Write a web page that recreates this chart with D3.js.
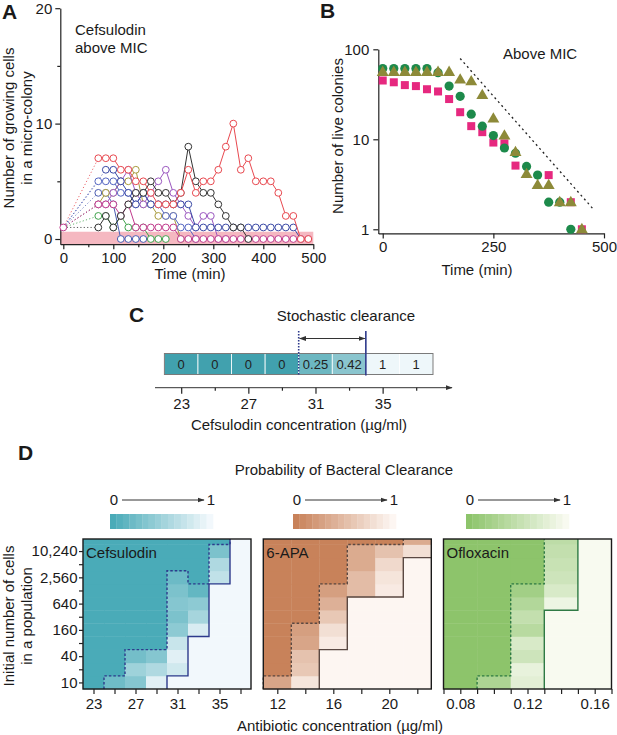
<!DOCTYPE html>
<html>
<head>
<meta charset="utf-8">
<script src="https://cdn.jsdelivr.net/npm/d3@7"></script>
<style>
body{margin:0;background:#fff;}
</style>
</head>
<body>
<script>
// ---------- data ----------
// panel A : growing cells per micro-colony (one point every 15 min from 70 min)
var timesA = [70,85,100,115,130,145,160,175,190,205,220,235,250,265,280,295,310,325,340,355,370,385,400,415,430,445,460,475,490];
var redA     = [7,7,7,6,6,5,5,4,3,3,3,4,6,4,5,5,6,8,10,6,7,5,5,5,4,2,2,0,0];
var blackA   = [1,2,1,2,3,4,4,5,4,4,3,4,8,5,4,4,3,2,1,1,0,null,null,null,null,null,null,null,null];
var blueA1   = [null,6,6,5,4,3,4,3,3,3,3,3,3,1,1,1,1,1,1,1,1,1,1,1,1,1,1,0,null];
var blueA2   = [5,5,5,4,4,3,4,3,3,2,2,1,1,0,null,null,null,null,null,null,null,null,null,null,null,null,null,null,null];
var blueA3   = [4,4,3,0,0,0,0,null,null,null,null,null,null,null,null,null,null,null,null,null,null,null,null,null,null,null,null,null,null];
var greenA   = [2,2,1,2,1,1,1,0,0,0,null,null,null,null,null,null,null,null,null,null,null,null,null,null,null,null,null,null,null];
var magentaA = [3,3,3,2,3,1,1,1,1,1,1,0,0,0,0,0,0,0,0,0,0,0,0,0,0,0,0,0,0];
var purpleA  = [3,3,4,5,6,4,3,4,5,6,4,3,2,1,2,2,0,0,null,null,null,null,null,null,null,null,null,null,null];
var oliveA   = [3,4,4,5,5,6,3,3,2,2,2,0,null,null,null,null,null,null,null,null,null,null,null,null,null,null,null,null,null];

// panel B : live colonies (every 25 min)
var timesB  = [0,25,50,75,100,125,150,175,200,225,250,275,300,325,350,375,400,425,450];
var circleB = [61,61,61,61,61,55,39,30,19,14,11,8,7,5,4,2,2,1,null];
var triB    = [56,56,56,56,56,56,56,46,44,31,17,11,7.2,4.1,3.1,3.1,2,2,1];
var squareB = [45,43,40,39,36,34,28,20,14,12,9.2,9,5.1,null,null,4,null,2,1];
var guideT  = [175,477];
var guideV  = [79,1.65];

// panel C
var concC  = [23,25,27,29,31,33,35,37];
var probC  = [0,0,0,0,0.25,0.42,1,1];
var labelC = ["0","0","0","0","0.25","0.42","1","1"];

// panel D : rows = initial number of cells
var rowsD = [10,20,40,80,160,320,640,1280,2560,5120,10240,20480];
var cefConc = [23,25,27,29,31,33,35,37];
var cefProb = [
  [0,0,0,0,0,0,0,0,0,0,0,0],
  [0.22,0,0,0,0,0,0,0,0,0,0,0],
  [0.35,0.5,0.25,0,0,0,0,0,0,0,0,0],
  [0.9,0.6,0.35,0,0,0,0,0,0,0,0,0],
  [1,0.8,0.9,0.75,0.4,0.3,0.35,0.3,0.2,0,0,0],
  [1,1,1,1,0.85,0.55,0.4,0.15,0,0,0,0],
  [1,1,1,1,1,1,1,1,0.7,0.6,0.3,0],
  [1,1,1,1,1,1,1,1,1,1,1,1]
];
var apaConc = [12,14,16,18,20,22];
var apaProb = [
  [0.3,0,0,0,0,0,0,0,0,0,0,0],
  [0.85,0.6,0.55,0.3,0.25,0,0,0,0,0,0,0],
  [1,1,1,0.9,0.8,0.6,0.4,0.25,0,0,0,0],
  [1,1,1,1,1,1,1,0.5,0.5,0.35,0.35,0],
  [1,1,1,1,1,1,1,0.9,0.85,0.75,0.55,0],
  [1,1,1,1,1,1,1,1,1,1,0.8,0.35]
];
var oflConc = [0.08,0.10,0.12,0.14,0.16];
var oflProb = [
  [0,0,0,0,0,0,0,0,0,0,0,0],
  [0.3,0,0,0,0,0,0,0,0,0,0,0],
  [0.8,0.85,0.6,0.7,0.4,0.5,0.35,0.2,0,0,0,0],
  [1,1,1,1,1,1,0.9,0.7,0.6,0.55,0.5,0.45],
  [1,1,1,1,1,1,1,1,1,1,1,1]
];

// ---------- setup ----------
var FONT = '"Liberation Sans", Arial, Helvetica, sans-serif';
var svg = d3.select("body").append("svg")
    .attr("width",617).attr("height",735)
    .attr("font-family",FONT);

var defs = svg.append("defs");
defs.append("marker").attr("id","arr").attr("viewBox","0 0 10 10")
  .attr("refX",9).attr("refY",5).attr("markerWidth",7).attr("markerHeight",7)
  .attr("orient","auto-start-reverse")
  .append("path").attr("d","M0,1.5L10,5L0,8.5Z").attr("fill","#333");

function styleAxis(g, fs){
  g.attr("font-family",FONT).attr("font-size",fs||14);
  g.selectAll("path,line").attr("stroke","#222").attr("stroke-width",1.2);
  g.selectAll("text").attr("fill","#1a1a1a");
}
function label(x,y,t,opt){
  opt = opt||{};
  return svg.append("text").attr("x",x).attr("y",y)
    .attr("font-size",opt.size||15)
    .attr("font-weight",opt.bold?"bold":"normal")
    .attr("text-anchor",opt.anchor||"start")
    .attr("fill","#1a1a1a")
    .attr("transform",opt.rot?"rotate(-90,"+x+","+y+")":null)
    .text(t);
}

// ---------- panel A ----------
var xA = d3.scaleLinear().domain([-6,500]).range([60.3,313.3]);
var yA = d3.scaleLinear().domain([-0.45,20]).range([244.2,8.2]);

svg.append("rect").attr("x",xA(-6)).attr("width",xA(500)-xA(-6))
  .attr("y",yA(0.63)).attr("height",yA(-0.45)-yA(0.63)).attr("fill","#f5b8c1");

var axA = svg.append("g").attr("transform","translate(0,"+yA(-0.45)+")")
  .call(d3.axisBottom(xA).tickValues([0,100,200,300,400,500]).tickSize(5).tickPadding(3).tickSizeOuter(0));
styleAxis(axA,15);
var axAm = svg.append("g").attr("transform","translate(0,"+yA(-0.45)+")")
  .call(d3.axisBottom(xA).tickValues([50,150,250,350,450]).tickSize(3).tickFormat("").tickSizeOuter(0));
styleAxis(axAm); axAm.select(".domain").remove();
var ayA = svg.append("g").attr("transform","translate("+xA(-6)+",0)")
  .call(d3.axisLeft(yA).tickValues([0,10,20]).tickSize(5).tickPadding(3).tickSizeOuter(0));
styleAxis(ayA,15);
var ayAm = svg.append("g").attr("transform","translate("+xA(-6)+",0)")
  .call(d3.axisLeft(yA).tickValues([5,15]).tickSize(3).tickFormat("").tickSizeOuter(0));
styleAxis(ayAm); ayAm.select(".domain").remove();

var seriesA = [
  {c:"#4a5bb0", v:blueA3},
  {c:"#3fa34c", v:greenA},
  {c:"#a89b3c", v:oliveA},
  {c:"#9b58c0", v:purpleA},
  {c:"#5566c2", v:blueA2},
  {c:"#3b4aa6", v:blueA1},
  {c:"#c03a8c", v:magentaA},
  {c:"#333333", v:blackA},
  {c:"#e8484f", v:redA}
];
var lineA = d3.line().defined(function(d){return d!=null;})
  .x(function(d,i){return xA(timesA[i]);}).y(function(d){return yA(d);});

// dotted lead-in from the single starting cell
seriesA.forEach(function(s){
  var i0 = s.v.findIndex(function(d){return d!=null;});
  svg.append("line").attr("x1",xA(0)).attr("y1",yA(1))
    .attr("x2",xA(timesA[i0])).attr("y2",yA(s.v[i0]))
    .attr("stroke",s.c).attr("stroke-width",1).attr("stroke-dasharray","1.2,2.2").attr("opacity",0.8);
});
seriesA.forEach(function(s){
  var g = svg.append("g");
  g.append("path").attr("d",lineA(s.v)).attr("fill","none").attr("stroke",s.c).attr("stroke-width",1);
  g.selectAll("circle").data(s.v.map(function(d,i){return {t:timesA[i],v:d};}).filter(function(d){return d.v!=null;}))
    .enter().append("circle")
    .attr("cx",function(d){return xA(d.t);}).attr("cy",function(d){return yA(d.v);})
    .attr("r",3.4).attr("fill","#fff").attr("stroke",s.c).attr("stroke-width",1);
});
svg.append("circle").attr("cx",xA(0)).attr("cy",yA(1)).attr("r",3.4)
  .attr("fill","#fff").attr("stroke","#c03a8c").attr("stroke-width",1);

label(2,19,"A",{bold:true,size:21});
label(75,35,"Cefsulodin");
label(75,53,"above MIC");
label(190,279,"Time (min)",{anchor:"middle"});
label(14,128,"Number of growing cells",{anchor:"middle",rot:true});
label(32,128,"in a micro-colony",{anchor:"middle",rot:true});

// ---------- panel B ----------
var xB = d3.scaleLinear().domain([-10,500]).range([378.3,604]);
var yB = d3.scaleLog().domain([0.9,100]).range([233.4,49.3]);

var axB = svg.append("g").attr("transform","translate(0,"+yB(0.9)+")")
  .call(d3.axisBottom(xB).tickValues([0,250,500]).tickSize(5).tickPadding(3).tickSizeOuter(0));
styleAxis(axB,15);
var ayB = svg.append("g").attr("transform","translate("+xB(-10)+",0)")
  .call(d3.axisLeft(yB).tickValues([1,10,100]).tickFormat(d3.format("d")).tickSize(5).tickPadding(4).tickSizeOuter(0));
styleAxis(ayB,15);

svg.append("line").attr("x1",xB(guideT[0])).attr("y1",yB(guideV[0]))
  .attr("x2",xB(guideT[1])).attr("y2",yB(guideV[1]))
  .attr("stroke","#222").attr("stroke-width",1.3).attr("stroke-dasharray","2,3.2");

function ptsB(arr){
  return arr.map(function(d,i){return {t:timesB[i],v:d};}).filter(function(d){return d.v!=null;});
}
svg.append("g").selectAll("rect").data(ptsB(squareB)).enter().append("rect")
  .attr("x",function(d){return xB(d.t)-4;}).attr("y",function(d){return yB(d.v)-4;})
  .attr("width",8).attr("height",8).attr("fill","#e6287f");
svg.append("g").selectAll("circle").data(ptsB(circleB)).enter().append("circle")
  .attr("cx",function(d){return xB(d.t);}).attr("cy",function(d){return yB(d.v);})
  .attr("r",4.6).attr("fill","#1d8a4b");
var tri = d3.symbol().type(d3.symbolTriangle).size(62);
svg.append("g").selectAll("path").data(ptsB(triB)).enter().append("path")
  .attr("d",tri).attr("transform",function(d){return "translate("+xB(d.t)+","+(yB(d.v)+0.5)+")";})
  .attr("fill","#8d8a39");

label(320,18,"B",{bold:true,size:21});
label(503,59,"Above MIC");
label(477,275,"Time (min)",{anchor:"middle"});
label(343,136,"Number of live colonies",{anchor:"middle",rot:true});

// ---------- panel C ----------
var xC = d3.scaleLinear().domain([23,37]).range([181.2,416.2]);
var colC = d3.scaleLinear().domain([0,1]).range(["#41a1ae","#eef7fa"]).interpolate(d3.interpolateRgb);
var cTop = 353.5, cH = 21;
svg.append("g").selectAll("rect").data(concC).enter().append("rect")
  .attr("x",function(d){return xC(d-1);}).attr("y",cTop)
  .attr("width",function(d){return xC(d+1)-xC(d-1);}).attr("height",cH)
  .attr("fill",function(d,i){return colC(probC[i]);})
  .attr("stroke","#fff").attr("stroke-width",0.8);
svg.append("rect").attr("x",xC(22)).attr("y",cTop).attr("width",xC(38)-xC(22)).attr("height",cH)
  .attr("fill","none").attr("stroke","#7a7a7a").attr("stroke-width",1);
svg.append("g").selectAll("text").data(concC).enter().append("text")
  .attr("x",function(d){return xC(d);}).attr("y",cTop+15.5)
  .attr("text-anchor","middle").attr("font-size",13).attr("fill","#222")
  .text(function(d,i){return labelC[i];});

svg.append("line").attr("x1",xC(30)).attr("x2",xC(30)).attr("y1",331).attr("y2",cTop+cH+1)
  .attr("stroke","#2e3a8c").attr("stroke-width",1.6).attr("stroke-dasharray","1.5,1.5");
svg.append("line").attr("x1",xC(34)).attr("x2",xC(34)).attr("y1",331).attr("y2",cTop+cH+1)
  .attr("stroke","#2e3a8c").attr("stroke-width",1.6);
svg.append("line").attr("x1",xC(30)+1).attr("x2",xC(34)-1).attr("y1",338.5).attr("y2",338.5)
  .attr("stroke","#333").attr("stroke-width",1)
  .attr("marker-start","url(#arr)").attr("marker-end","url(#arr)");
label(346,321,"Stochastic clearance",{anchor:"middle"});

var axisY_C = 387.7;
svg.append("line").attr("x1",155).attr("x2",452).attr("y1",axisY_C).attr("y2",axisY_C)
  .attr("stroke","#333").attr("stroke-width",1).attr("marker-end","url(#arr)");
var axC = svg.append("g").attr("transform","translate(0,"+axisY_C+")")
  .call(d3.axisBottom(xC).tickValues([23,27,31,35]).tickSize(6).tickPadding(5));
styleAxis(axC,15); axC.select(".domain").remove();
var axCm = svg.append("g").attr("transform","translate(0,"+axisY_C+")")
  .call(d3.axisBottom(xC).tickValues([25,29,33,37]).tickSize(3).tickFormat(""));
styleAxis(axCm); axCm.select(".domain").remove();
label(299,430,"Cefsulodin concentration (\u00b5g/ml)",{anchor:"middle"});
label(129,322,"C",{bold:true,size:21});

// ---------- panel D ----------
var yTopVal = 19350;
var yD = d3.scaleLog().base(2).domain([10/Math.SQRT2, yTopVal]).range([689,539]);
function bound(h){ return h>=rowsD.length ? yD(yTopVal) : yD(rowsD[h]/Math.SQRT2); }

function stepPath(x, conc, step, h){
  var p = "", started = false;
  for (var i=0;i<conc.length;i++){
    var x0 = x(conc[i]-step/2), x1 = x(conc[i]+step/2);
    if(!started){
      if(h[i]==0) continue;
      p = "M"+x0+","+yD(10/Math.SQRT2); started = true;
    }
    p += "V"+bound(h[i]);
    if(h[i]>=rowsD.length) break;
    p += "H"+x1;
  }
  return p;
}

function drawHeat(o){
  var x = d3.scaleLinear().domain(o.domain).range(o.range);
  var col = d3.scaleLinear().domain([0,1]).range([o.dark,o.light]).interpolate(d3.interpolateRgb);
  var g = svg.append("g");
  o.conc.forEach(function(c,i){
    o.prob[i].forEach(function(v,k){
      var top = Math.max(bound(k+1), yD(yTopVal));
      g.append("rect").attr("x",x(c-o.step/2)).attr("width",x(c+o.step/2)-x(c-o.step/2)+0.4)
        .attr("y",top).attr("height",bound(k)-top+0.4)
        .attr("fill",col(v));
    });
  });
  // boundaries: dashed = any clearance, solid = certain clearance
  var hAny = o.prob.map(function(p){return p.filter(function(v){return v>0;}).length;});
  var hAll = o.prob.map(function(p){return p.filter(function(v){return v>=1;}).length;});
  g.append("path").attr("d",stepPath(x,o.conc,o.step,hAny)).attr("fill","none")
    .attr("stroke",o.line).attr("stroke-width",1.4).attr("stroke-dasharray","2.5,2");
  g.append("path").attr("d",stepPath(x,o.conc,o.step,hAll)).attr("fill","none")
    .attr("stroke",o.line).attr("stroke-width",1.4);
  g.append("rect").attr("x",o.range[0]).attr("y",539).attr("width",o.range[1]-o.range[0]).attr("height",150)
    .attr("fill","none").attr("stroke","#1a1a1a").attr("stroke-width",1.4);
  var ax = svg.append("g").attr("transform","translate(0,689)")
    .call(d3.axisBottom(x).tickValues(o.ticks).tickSize(5).tickPadding(4).tickSizeOuter(0)
      .tickFormat(function(d){return o.labels.some(function(l){return Math.abs(l-d)<1e-9;}) ? o.fmt(d) : "";}));
  styleAxis(ax,15); ax.select(".domain").remove();
  label(o.range[0]+3,558,o.name);

  // colour key
  var nStep = 16, bw = 103/nStep;
  for (var s=0;s<nStep;s++){
    svg.append("rect").attr("x",o.barX+s*bw).attr("y",514).attr("width",bw+0.3).attr("height",15)
      .attr("fill",col(s/(nStep-1)));
  }
  label(o.barX+4,505,"0",{anchor:"middle"});
  label(o.barX+101,505,"1",{anchor:"middle"});
  svg.append("line").attr("x1",o.barX+12).attr("x2",o.barX+94).attr("y1",500).attr("y2",500)
    .attr("stroke","#333").attr("stroke-width",1).attr("marker-end","url(#arr)");
  return x;
}

drawHeat({name:"Cefsulodin", conc:cefConc, prob:cefProb, step:2, domain:[22,38], range:[83,251],
  dark:"#4aabb8", light:"#f2f8fc", line:"#2e3a8c",
  ticks:[23,25,27,29,31,33,35,37], labels:[23,27,31,35], fmt:d3.format("d"), barX:110});
drawHeat({name:"6-APA", conc:apaConc, prob:apaProb, step:2, domain:[11,23], range:[263.3,431.3],
  dark:"#c8825a", light:"#fdf6f2", line:"#5a4842",
  ticks:[12,14,16,18,20,22], labels:[12,16,20], fmt:d3.format("d"), barX:293});
drawHeat({name:"Ofloxacin", conc:oflConc, prob:oflProb, step:0.02, domain:[0.07,0.17], range:[443.5,611.5],
  dark:"#8dc46b", light:"#f8faf0", line:"#2f7a45",
  ticks:[0.07,0.08,0.09,0.10,0.11,0.12,0.13,0.14,0.15,0.16,0.17], labels:[0.08,0.12,0.16], fmt:d3.format(".2f"), barX:466});

// y axis of heat maps
var yTicks = rowsD.slice(0,11);
var ayD = svg.append("g").attr("transform","translate(83,0)")
  .call(d3.axisLeft(yD).tickValues(yTicks).tickSize(4).tickPadding(1.5).tickSizeOuter(0)
    .tickFormat(function(d,i){return i%2==0 ? d3.format(",")(d) : "";}));
styleAxis(ayD,15); ayD.select(".domain").remove();

label(18,460,"D",{bold:true,size:21});
label(344,475,"Probability of Bacteral Clearance",{anchor:"middle"});
label(340,731,"Antibiotic concentration (\u00b5g/ml)",{anchor:"middle"});
label(14,616,"Initial number of cells",{anchor:"middle",rot:true});
label(32,616,"in a population",{anchor:"middle",rot:true});
</script>
</body>
</html>
